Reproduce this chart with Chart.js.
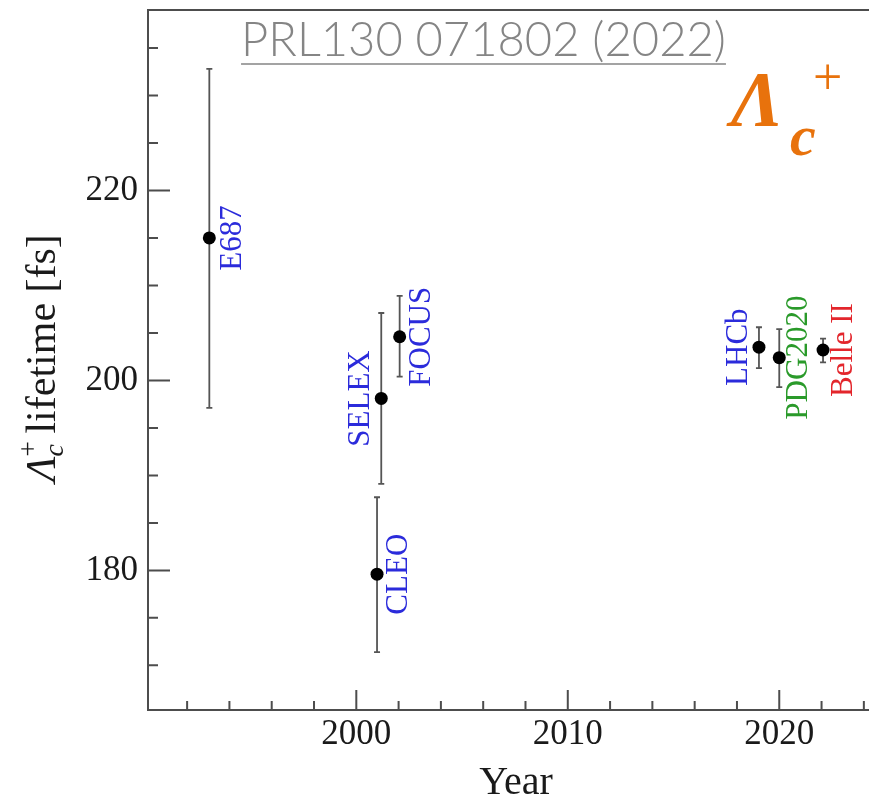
<!DOCTYPE html>
<html>
<head>
<meta charset="utf-8">
<title>Lambda_c+ lifetime</title>
<script src="https://cdn.jsdelivr.net/npm/chart.js@4.4.1/dist/chart.umd.min.js"></script>
<style>
  html, body { margin: 0; padding: 0; background: #fff; overflow: hidden; }
  #wrap { width: 900px; height: 801px; }
</style>
</head>
<body>
<div id="wrap"><canvas id="lifetimeChart" width="900" height="801"></canvas></div>
<script>
// Lambda_c+ lifetime measurements
const experiments = ['E687', 'CLEO', 'SELEX', 'FOCUS', 'LHCb', 'PDG2020', 'Belle II'];
const years = [1993.05, 2000.98, 2001.18, 2002.05, 2019.04, 2020.0, 2022.07];
const lifetimes = [215.0, 179.6, 198.1, 204.6, 203.5, 202.4, 203.2];
const lowerBounds = [197.1, 171.4, 189.1, 200.4, 201.3, 199.3, 201.9];
const upperBounds = [232.8, 187.7, 207.1, 208.9, 205.6, 205.4, 204.4];

// ticks
const xTickValues = [1992, 1994, 1996, 1998, 2000, 2002, 2004, 2006, 2008, 2010,
  2012, 2014, 2016, 2018, 2020, 2022, 2024];
const xTickLabels = [2000, 2010, 2020];
const yTickValues = [170, 175, 180, 185, 190, 195, 200, 205, 210, 215, 220, 225, 230, 235];
const yTickLabels = [180, 200, 220];

// label look
const labelColors = ['#2b2bdb', '#2b2bdb', '#2b2bdb', '#2b2bdb', '#2b2bdb', '#2a9a2a', '#e3262c'];
const labelOffsets = [24, 22, -20, 22, -20, 20, 21];

const SERIF = '"Liberation Serif", "Times New Roman", serif';
const AXIS_COLOR = '#4d4d4d';

// frame and inward ticks
const framePlugin = {
  id: 'frame',
  beforeDatasetsDraw(chart) {
    const { ctx, chartArea: a, scales } = chart;
    ctx.save();
    ctx.strokeStyle = AXIS_COLOR;
    ctx.lineWidth = 2;
    ctx.strokeRect(a.left, a.top, a.right - a.left, a.bottom - a.top);

    ctx.beginPath();
    xTickValues.forEach(v => {
      const px = scales.x.getPixelForValue(v);
      const len = xTickLabels.includes(v) ? 20 : 9;
      ctx.moveTo(px, a.bottom);
      ctx.lineTo(px, a.bottom - len);
    });
    yTickValues.forEach(v => {
      const py = scales.y.getPixelForValue(v);
      const len = yTickLabels.includes(v) ? 22 : 10;
      ctx.moveTo(a.left, py);
      ctx.lineTo(a.left + len, py);
    });
    ctx.stroke();
    ctx.restore();
  }
};

// vertical error bars
const errorBarPlugin = {
  id: 'errorBars',
  beforeDatasetsDraw(chart) {
    const { ctx, scales } = chart;
    ctx.save();
    ctx.strokeStyle = '#555';
    ctx.lineWidth = 1.8;
    years.forEach((yr, i) => {
      const px = scales.x.getPixelForValue(yr);
      const lo = scales.y.getPixelForValue(lowerBounds[i]);
      const hi = scales.y.getPixelForValue(upperBounds[i]);
      ctx.beginPath();
      ctx.moveTo(px, lo);
      ctx.lineTo(px, hi);
      ctx.moveTo(px - 3, lo);
      ctx.lineTo(px + 3, lo);
      ctx.moveTo(px - 3, hi);
      ctx.lineTo(px + 3, hi);
      ctx.stroke();
    });
    ctx.restore();
  }
};

function drawRuns(ctx, runs) {
  // runs drawn one after the other along x, baseline at 0
  let total = 0;
  runs.forEach(r => {
    ctx.font = r.font;
    r.w = r.stack ? 0 : ctx.measureText(r.text).width;
    total += r.w;
  });
  let x = -total / 2;
  runs.forEach(r => {
    ctx.font = r.font;
    ctx.fillText(r.text, x + (r.dx || 0), r.dy || 0);
    x += r.w;
  });
}

const textPlugin = {
  id: 'texts',
  afterDatasetsDraw(chart) {
    const { ctx, scales } = chart;
    ctx.save();

    // experiment names, rotated
    ctx.font = '31px ' + SERIF;
    ctx.textAlign = 'center';
    ctx.textBaseline = 'middle';
    experiments.forEach((name, i) => {
      const px = scales.x.getPixelForValue(years[i]) + labelOffsets[i];
      const py = scales.y.getPixelForValue(lifetimes[i]);
      ctx.save();
      ctx.translate(px, py);
      ctx.rotate(-Math.PI / 2);
      ctx.fillStyle = labelColors[i];
      ctx.fillText(name, 0, 0);
      ctx.restore();
    });

    // y axis title
    ctx.fillStyle = '#1a1a1a';
    ctx.textAlign = 'left';
    ctx.textBaseline = 'alphabetic';
    ctx.save();
    ctx.translate(55, 358);
    ctx.rotate(-Math.PI / 2);
    drawRuns(ctx, [
      { text: 'Λ', font: 'italic 42px ' + SERIF },
      { text: '+', font: '27px ' + SERIF, dy: -18, stack: true },
      { text: 'c', font: 'italic 28px ' + SERIF, dy: 8 },
      { text: ' lifetime [fs]', font: '42px ' + SERIF }
    ]);
    ctx.restore();

    // x axis title
    ctx.font = '40px ' + SERIF;
    ctx.textAlign = 'center';
    ctx.fillText('Year', 516, 794);

    // particle symbol
    ctx.fillStyle = '#e8720c';
    ctx.textAlign = 'left';
    ctx.font = 'bold italic 78px ' + SERIF;
    ctx.fillText('Λ', 731, 125);
    ctx.font = 'bold italic 58px ' + SERIF;
    ctx.fillText('c', 790, 155);
    ctx.font = '52px ' + SERIF;
    ctx.fillText('+', 813, 94);

    // reference
    const ref = 'PRL130 071802 (2022)';
    let size = 46;
    ctx.font = `300 ${size}px Lato, "Open Sans", sans-serif`;
    size = size * 485 / ctx.measureText(ref).width;
    ctx.font = `300 ${size}px Lato, "Open Sans", sans-serif`;
    const w = ctx.measureText(ref).width;
    ctx.fillStyle = '#858585';
    ctx.textAlign = 'center';
    ctx.fillText(ref, 483.5, 56);
    ctx.strokeStyle = '#858585';
    ctx.lineWidth = 1.6;
    ctx.beginPath();
    ctx.moveTo(483.5 - w / 2, 64);
    ctx.lineTo(483.5 + w / 2, 64);
    ctx.stroke();

    ctx.restore();
  }
};

const ctx = document.getElementById('lifetimeChart').getContext('2d');
new Chart(ctx, {
  type: 'scatter',
  data: {
    datasets: [{
      data: years.map((yr, i) => ({ x: yr, y: lifetimes[i] })),
      pointRadius: 6.5,
      pointHoverRadius: 6.5,
      pointBackgroundColor: '#000',
      pointBorderWidth: 0
    }]
  },
  options: {
    responsive: false,
    animation: false,
    events: [],
    layout: { padding: { top: 10, right: 15, left: 0, bottom: 0 } },
    plugins: {
      legend: { display: false },
      tooltip: { enabled: false }
    },
    scales: {
      x: {
        type: 'linear',
        min: 1990.15,
        max: 2025.0,
        afterBuildTicks: s => { s.ticks = xTickValues.map(v => ({ value: v })); },
        afterFit: s => { s.height = 91; s.paddingLeft = 0; s.paddingRight = 0; },
        grid: { display: false, drawTicks: false },
        border: { display: false },
        ticks: {
          autoSkip: false,
          maxRotation: 0,
          minRotation: 0,
          padding: 4,
          color: '#1a1a1a',
          font: { family: SERIF, size: 35 },
          callback: v => xTickLabels.includes(v) ? String(v) : ''
        }
      },
      y: {
        min: 165.3,
        max: 239.0,
        afterBuildTicks: s => { s.ticks = yTickValues.map(v => ({ value: v })); },
        afterFit: s => { s.width = 148; s.paddingTop = 0; s.paddingBottom = 0; },
        grid: { display: false, drawTicks: false },
        border: { display: false },
        ticks: {
          autoSkip: false,
          padding: 10,
          color: '#1a1a1a',
          font: { family: SERIF, size: 35 },
          callback: v => yTickLabels.includes(v) ? String(v) : ''
        }
      }
    }
  },
  plugins: [framePlugin, errorBarPlugin, textPlugin]
});
</script>
</body>
</html>
